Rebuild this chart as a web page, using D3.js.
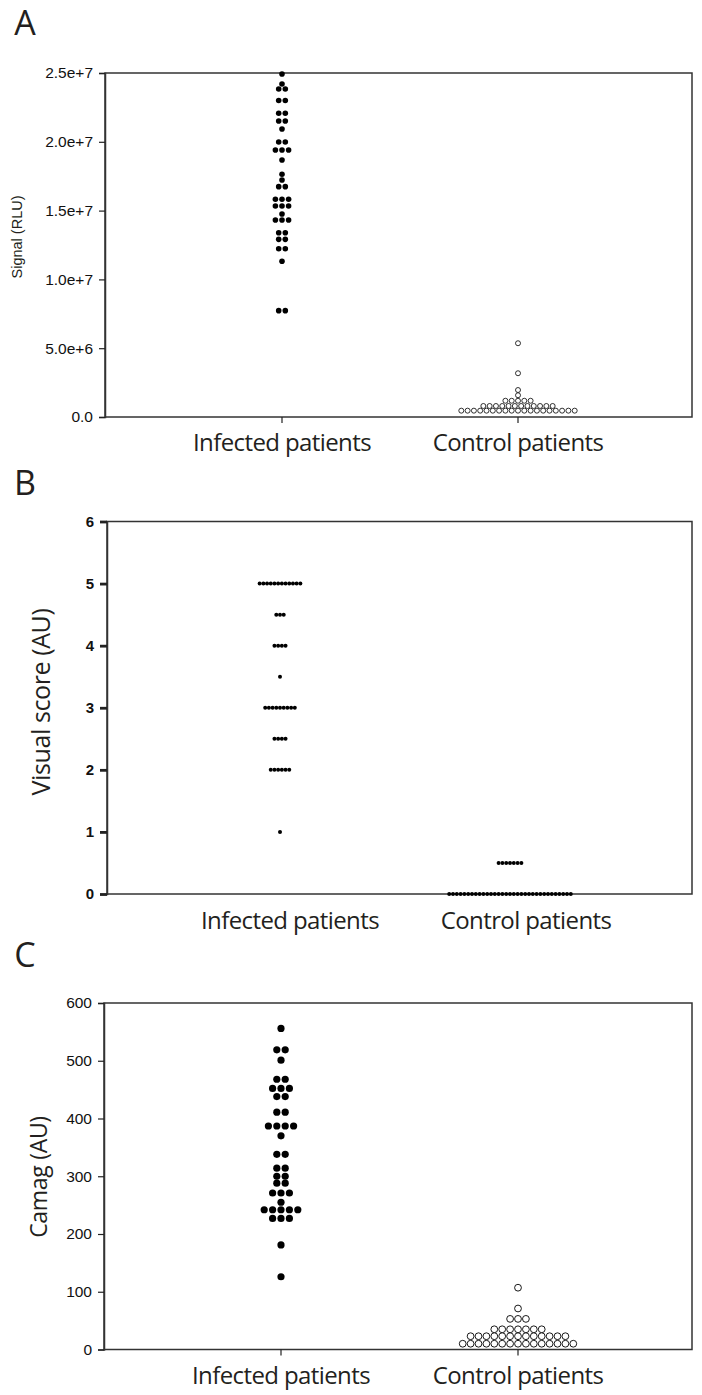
<!DOCTYPE html>
<html><head><meta charset="utf-8">
<script src="https://cdn.jsdelivr.net/npm/d3@7"></script>
<style>body{margin:0;background:#fff}</style>
</head><body><svg id="fig" width="702" height="1395"></svg>
<script>
// ---------- data ----------
const categories = ["Infected patients", "Control patients"];

// Panel A: Signal (RLU)
const aInfected = [24.93e6, 24.2e6, 23.84e6, 23.84e6, 23.0e6, 23.0e6, 22.07e6, 22.07e6,
  21.51e6, 21.51e6, 20.93e6, 19.99e6, 19.99e6, 19.4e6, 19.4e6, 19.4e6, 18.68e6,
  17.64e6, 17.22e6, 16.74e6, 16.74e6, 15.82e6, 15.82e6, 15.82e6, 15.33e6, 15.33e6, 15.33e6,
  14.75e6, 14.32e6, 14.32e6, 14.32e6, 13.39e6, 13.39e6, 12.91e6, 12.91e6,
  12.23e6, 12.23e6, 11.32e6, 7.73e6, 7.73e6];
const aControl = [5.36e6, 3.18e6, 1.96e6, 1.58e6,
  1.18e6, 1.18e6, 1.18e6, 1.18e6, 1.18e6,
  0.8e6, 0.8e6, 0.8e6, 0.8e6, 0.8e6, 0.8e6, 0.8e6, 0.8e6, 0.8e6, 0.8e6, 0.8e6, 0.8e6,
  0.46e6, 0.46e6, 0.46e6, 0.46e6, 0.46e6, 0.46e6, 0.46e6, 0.46e6, 0.46e6, 0.46e6,
  0.46e6, 0.46e6, 0.46e6, 0.46e6, 0.46e6, 0.46e6, 0.46e6, 0.46e6, 0.46e6];
const aTicks = [0, 5e6, 1e7, 1.5e7, 2e7, 2.5e7];
const aTickLabels = ["0.0", "5.0e+6", "1.0e+7", "1.5e+7", "2.0e+7", "2.5e+7"];

// Panel B: Visual score (AU)
const bInfected = [5, 5, 5, 5, 5, 5, 5, 5, 5, 5, 5, 5,
  4.5, 4.5, 4.5, 4, 4, 4, 4, 3.5,
  3, 3, 3, 3, 3, 3, 3, 3, 3, 2.5, 2.5, 2.5, 2.5,
  2, 2, 2, 2, 2, 2, 1];
const bControl = [0.5, 0.5, 0.5, 0.5, 0.5, 0.5, 0.5,
  0, 0, 0, 0, 0, 0, 0, 0, 0, 0, 0, 0, 0, 0, 0, 0, 0, 0, 0, 0, 0, 0,
  0, 0, 0, 0, 0, 0, 0, 0, 0, 0, 0];
const bTicks = [0, 1, 2, 3, 4, 5, 6];
const bTickLabels = ["0", "1", "2", "3", "4", "5", "6"];

// Panel C: Camag (AU)
const cInfected = [556, 519, 519, 501, 468, 468, 452, 452, 452, 438, 438, 411, 411,
  387, 387, 387, 387, 370, 338, 338, 314, 314, 300, 300, 288, 288,
  271, 271, 271, 255, 242, 242, 242, 242, 242, 227, 227, 227, 181, 126];
const cControl = [107, 71, 53, 53, 53,
  35, 35, 35, 35, 35, 35, 35,
  23, 23, 23, 23, 23, 23, 23, 23, 23, 23, 23, 23, 23,
  10, 10, 10, 10, 10, 10, 10, 10, 10, 10, 10, 10, 10, 10, 10];
const cTicks = [0, 100, 200, 300, 400, 500, 600];
const cTickLabels = ["0", "100", "200", "300", "400", "500", "600"];

// ---------- drawing ----------
const svg = d3.select("#fig");
const labelFont = "'Open Sans', 'Noto Sans', sans-serif";
const tickFont = "'Liberation Sans', Arial, sans-serif";

// group equal values into horizontal rows, centred on the category
function rows(values) {
  const m = d3.group(values, v => v);
  const out = [];
  for (const [v, arr] of m) arr.forEach((_, i) => out.push({v, i, n: arr.length}));
  return out;
}

function panel(o) {
  const g = svg.append("g");
  const y = d3.scaleLinear().domain(o.domain).range([o.bottom, o.top]);
  const x = d3.scalePoint().domain(categories).range(o.catRange);

  // frame
  g.append("rect").attr("x", o.left).attr("y", o.top)
    .attr("width", o.right - o.left).attr("height", o.bottom - o.top)
    .attr("fill", "none").attr("stroke", "#333").attr("stroke-width", 1.5);

  // y axis
  const ya = g.append("g").attr("transform", `translate(${o.left},0)`)
    .call(d3.axisLeft(y).tickValues(o.ticks).tickFormat((d, i) => o.tickLabels[i])
      .tickSize(o.tickLen).tickPadding(o.tickPad));
  ya.select(".domain").attr("stroke", "#333").attr("stroke-width", 1.5);
  ya.selectAll(".tick line").attr("stroke", "#222").attr("stroke-width", o.tickW);
  ya.selectAll(".tick text").attr("font-family", tickFont).attr("font-size", o.tickFs)
    .attr("font-weight", o.tickBold ? "bold" : "normal").attr("fill", "#111");

  // x axis (category ticks)
  if (o.catTicks) {
    g.selectAll(".ct").data(categories).enter().append("line")
      .attr("x1", d => x(d)).attr("x2", d => x(d))
      .attr("y1", o.bottom).attr("y2", o.bottom + 6)
      .attr("stroke", "#222").attr("stroke-width", 1.2);
  }
  g.selectAll(".cl").data(categories).enter().append("text")
    .attr("x", d => x(d) + o.catDx).attr("y", o.catY)
    .attr("text-anchor", "middle").attr("font-family", labelFont)
    .attr("font-size", o.catFs).attr("fill", "#231f20")
    .attr("letter-spacing", o.catLs)
    .text(d => d);

  // y title
  g.append("text").attr("transform", `translate(${o.titleX},${o.titleY}) rotate(-90)`)
    .attr("text-anchor", "middle").attr("font-family", o.titleFont)
    .attr("font-size", o.titleFs).attr("letter-spacing", o.titleLs).attr("fill", "#231f20").text(o.title);

  // panel letter
  g.append("text").attr("x", 25).attr("y", o.letterY).attr("text-anchor", "middle")
    .attr("font-family", labelFont).attr("font-size", 34).attr("fill", "#231f20").text(o.letter);

  // dots
  const cx0 = x(categories[0]) + o.dotDx[0], cx1 = x(categories[1]) + o.dotDx[1];
  g.append("g").selectAll("circle").data(rows(o.inf)).enter().append("circle")
    .attr("cx", d => cx0 + (d.i - (d.n - 1) / 2) * o.spI)
    .attr("cy", d => y(d.v)).attr("r", o.rI).attr("fill", "#000");
  g.append("g").selectAll("circle").data(rows(o.ctl)).enter().append("circle")
    .attr("cx", d => cx1 + (d.i - (d.n - 1) / 2) * o.spC)
    .attr("cy", d => y(d.v)).attr("r", o.rC)
    .attr("fill", o.ctlFill).attr("stroke", "#000").attr("stroke-width", o.ctlStroke);
}

panel({letter: "A", letterY: 35, top: 73, bottom: 417, left: 105, right: 692,
  domain: [0, 2.5e7], ticks: aTicks, tickLabels: aTickLabels, tickLen: 6, tickPad: 6, tickW: 1.2,
  tickFs: 15.5, tickBold: false, catRange: [282, 518], catTicks: true, catY: 451, catFs: 24, catLs: -0.6, catDx: 0,
  title: "Signal (RLU)", titleX: 22, titleY: 237, titleFs: 14.5, titleLs: 0, titleFont: tickFont,
  inf: aInfected, ctl: aControl, dotDx: [0, 0], rI: 2.8, spI: 6.6, rC: 2.5, spC: 6.3, ctlFill: "#fff", ctlStroke: 0.8});

panel({letter: "B", letterY: 495, top: 521.5, bottom: 894, left: 107, right: 692,
  domain: [0, 6], ticks: bTicks, tickLabels: bTickLabels, tickLen: 7, tickPad: 6, tickW: 2.8,
  tickFs: 15, tickBold: true, catRange: [282, 518], catTicks: false, catY: 929, catFs: 24, catLs: -0.6, catDx: 8,
  title: "Visual score (AU)", titleX: 50, titleY: 702, titleFs: 25, titleLs: -0.4, titleFont: labelFont,
  inf: bInfected, ctl: bControl, dotDx: [-2, -8], rI: 2.0, spI: 3.7, rC: 2.0, spC: 3.8, ctlFill: "#000", ctlStroke: 0});

panel({letter: "C", letterY: 967, top: 1003, bottom: 1349.5, left: 104, right: 692,
  domain: [0, 600], ticks: cTicks, tickLabels: cTickLabels, tickLen: 6, tickPad: 6, tickW: 1.2,
  tickFs: 15.5, tickBold: false, catRange: [281, 518], catTicks: true, catY: 1384, catFs: 24, catLs: -0.6, catDx: 0,
  title: "Camag (AU)", titleX: 47, titleY: 1177, titleFs: 23, titleLs: -0.3, titleFont: labelFont,
  inf: cInfected, ctl: cControl, dotDx: [0, 0], rI: 3.6, spI: 8.4, rC: 3.4, spC: 7.9, ctlFill: "#fff", ctlStroke: 0.9});
</script>
</body></html>
